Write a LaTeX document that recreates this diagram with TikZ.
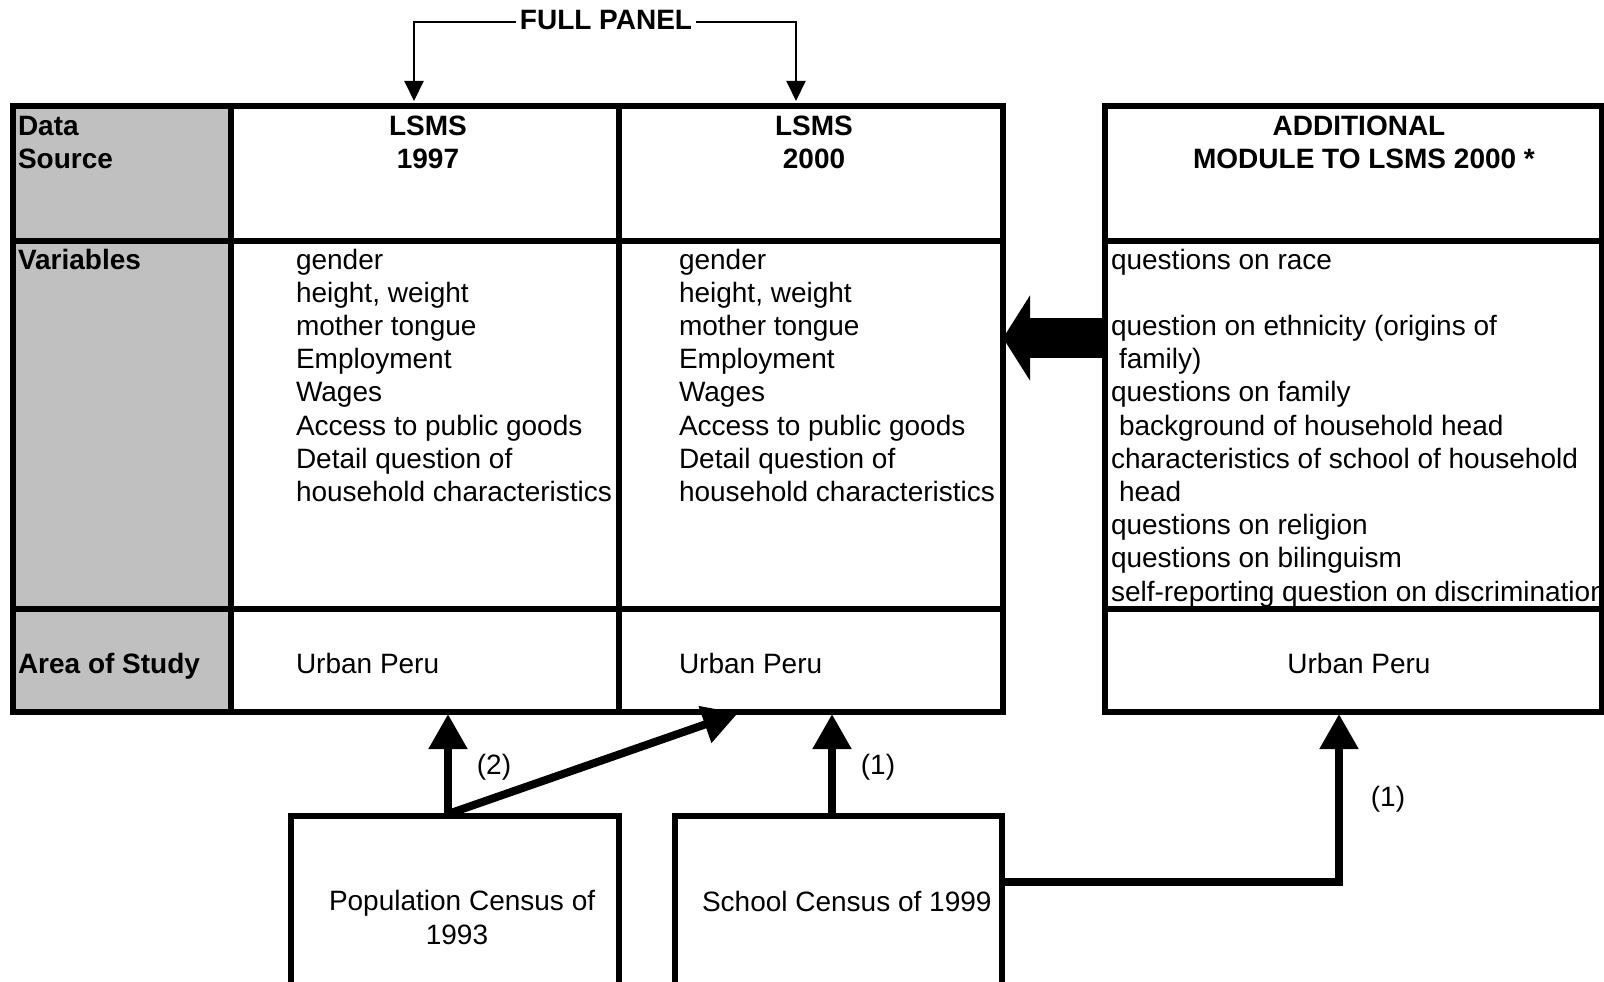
\documentclass[tikz,border=0pt]{standalone}
\usepackage{fontspec}
\setmainfont{Liberation Sans}
\usetikzlibrary{arrows.meta,calc}
\definecolor{cellgray}{RGB}{192,192,192}
\begin{document}
\begin{tikzpicture}[x=1pt,y=-1pt,
  txt/.style={font=\fontsize{28}{33.2}\selectfont,inner sep=0pt,outer sep=0pt},
  hdr/.style={font=\fontsize{28}{33.2}\selectfont\bfseries,inner sep=0pt,outer sep=0pt},
  cellbox/.style={draw,line width=5.5pt,inner sep=0pt,outer sep=0pt,anchor=north west},
  thinarrow/.style={line width=2pt,-{Triangle[length=20pt,width=19pt]}},
  thickarrow/.style={line width=8pt,-{Triangle[length=35pt,width=37pt]}},
  link/.style={line width=8pt},
]
\useasboundingbox (0,0) rectangle (1604,982);
\begin{scope}
\clip (0,0) rectangle (1604,982);
% grey label column
\node[cellbox,fill=cellgray,minimum width=218pt,minimum height=135pt] (ds) at (13,106) {};
\node[cellbox,fill=cellgray,minimum width=218pt,minimum height=368pt] (vs) at (13,241) {};
\node[cellbox,fill=cellgray,minimum width=218pt,minimum height=103pt] (as) at (13,609) {};
% LSMS 1997
\node[cellbox,minimum width=388pt,minimum height=135pt] (h97) at (231,106) {};
\node[cellbox,minimum width=388pt,minimum height=368pt] (v97) at (231,241) {};
\node[cellbox,minimum width=388pt,minimum height=103pt] (a97) at (231,609) {};
% LSMS 2000
\node[cellbox,minimum width=384pt,minimum height=135pt] (h00) at (619,106) {};
\node[cellbox,minimum width=384pt,minimum height=368pt] (v00) at (619,241) {};
\node[cellbox,minimum width=384pt,minimum height=103pt] (a00) at (619,609) {};
% additional module
\node[cellbox,minimum width=497pt,minimum height=135pt] (hadd) at (1105,106) {};
\node[cellbox,minimum width=497pt,minimum height=368pt] (vadd) at (1105,241) {};
\node[cellbox,minimum width=497pt,minimum height=103pt] (aadd) at (1105,609) {};
% bottom boxes
\node[cellbox,minimum width=328pt,minimum height=200pt] (pop) at (291,816) {};
\node[cellbox,minimum width=327pt,minimum height=200pt] (school) at (675,816) {};

% header texts
\node[hdr,anchor=base west] (l1) at (18,135) {Data};
\node[hdr,anchor=base west] (l2) at (18,168) {Source};
\node[hdr,anchor=base west] (l3) at (18,269) {Variables};
\node[hdr,anchor=base west] (l4) at (18,673) {Area of Study};
\node[hdr,anchor=base] (t97a) at (428,135) {LSMS};
\node[hdr,anchor=base] (t97b) at (428,168) {1997};
\node[hdr,anchor=base] (t00a) at (814,135) {LSMS};
\node[hdr,anchor=base] (t00b) at (814,168) {2000};
\node[hdr,anchor=base] (tada) at (1359,135) {ADDITIONAL};
\node[hdr,anchor=base] (tadb) at (1364,168) {MODULE TO LSMS 2000 *};

% variables lists
\foreach \t [count=\i] in {gender,{height, weight},mother tongue,Employment,Wages,Access to public goods,Detail question of,household characteristics}{
  \node[txt,anchor=base west] (x97-\i) at (296,{269+33.2*(\i-1)}) {\t};
  \node[txt,anchor=base west] (x00-\i) at (679,{269+33.2*(\i-1)}) {\t};
}
\foreach \t/\s in {questions on race/1,question on ethnicity (origins of/3,\hspace{8pt}family)/4,questions on family/5,\hspace{8pt}background of household head/6,characteristics of school of household/7,\hspace{8pt}head/8,questions on religion/9,questions on bilinguism/10,self-reporting question on discrimination/11}{
  \node[txt,anchor=base west] (xadd-\s) at (1111,{269+33.2*(\s-1)}) {\t};
}
% redraw right border over clipped text
\draw[line width=5.5pt] (vadd.north east) -- (vadd.south east);

% area of study
\node[txt,anchor=base west] (u97) at (296,673) {Urban Peru};
\node[txt,anchor=base west] (u00) at (679,673) {Urban Peru};
\node[txt,anchor=base] (uadd) at (1359,673) {Urban Peru};

% bottom box texts
\node[txt,anchor=base west] (p1) at (329,910) {Population Census of};
\node[txt,anchor=base] (p2) at (457,944) {1993};
\node[txt,anchor=base west] (s1) at (702,911) {School Census of 1999};

% full panel
\node[hdr,anchor=base,inner xsep=4pt] (fp) at (606,30) {FULL PANEL};
\coordinate (fl) at (414,22);
\coordinate (fr) at (796,22);
\coordinate (fltip) at (414,101);
\coordinate (frtip) at (796,101);
\draw[thinarrow] (fp.west |- fl) -- (fl) -- (fltip);
\draw[thinarrow] (fp.east |- fr) -- (fr) -- (frtip);

% big arrow from additional module to LSMS 2000
\coordinate (bigs) at (1106,338);
\coordinate (bige) at (1003,338);
\draw[line width=40pt,-{Triangle[length=27pt,width=84pt]}] (bigs) -- (bige);

% source arrows
\coordinate (pa) at (448,814);
\coordinate (pat) at (448,714);
\coordinate (pdt) at (738,713);
\coordinate (sa) at (832,814);
\coordinate (sat) at (832,714);
\coordinate (se) at (1000,882);
\coordinate (rt) at (1339,714);
\draw[thickarrow] (pa) -- (pat);
\draw[thickarrow] (pa) -- (pdt);
\draw[thickarrow] (sa) -- (sat);
\draw[thickarrow] (se) -| (rt);

\node[txt] (lab2) at (494,767) {(2)};
\node[txt] (lab1) at (878,767) {(1)};
\node[txt] (lab1b) at (1388,799) {(1)};
\end{scope}
\end{tikzpicture}
\end{document}
